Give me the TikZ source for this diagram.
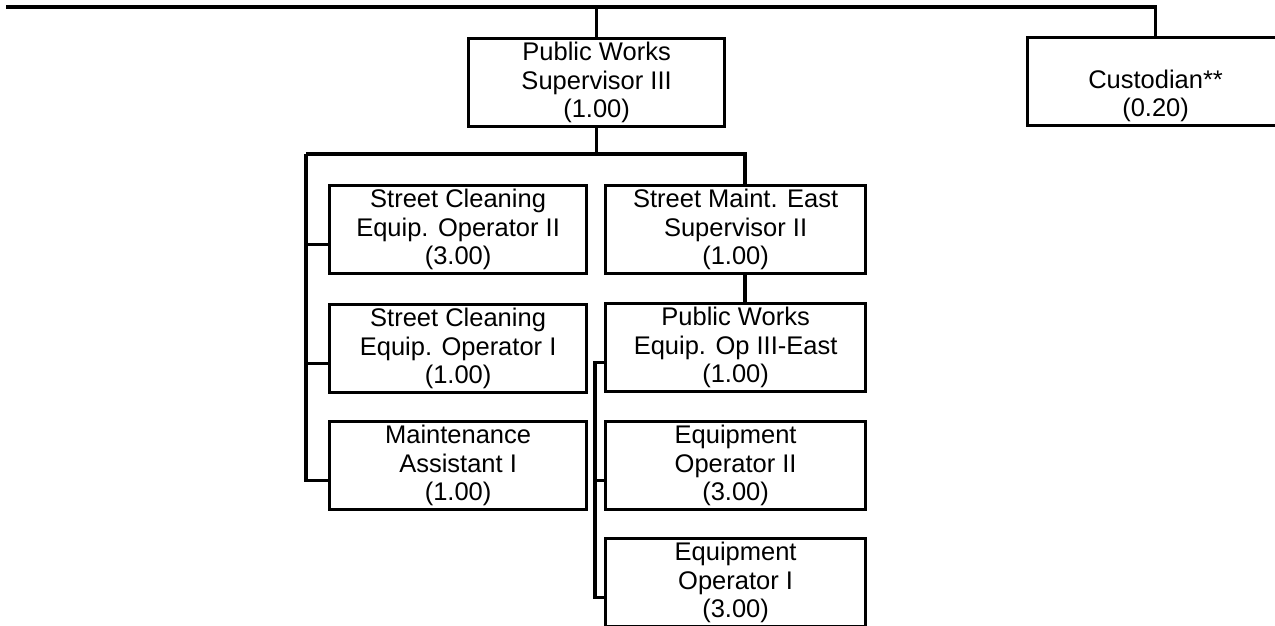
\documentclass[tikz,border=0pt]{standalone}
\usepackage{fontspec}
\setmainfont{Liberation Sans}
\begin{document}
\begin{tikzpicture}[x=1pt,y=-1pt,
  conn/.style={line width=3.1pt,line join=miter},
  post/.style={draw,line width=3.2pt,anchor=north west,inner sep=0pt,
    minimum height=88pt,align=center,
    font=\fontsize{25.5pt}{28.5pt}\selectfont},
  colA/.style={post,minimum width=257pt},
  colB/.style={post,minimum width=260pt},
  colT/.style={post,minimum width=256pt}]
\clip (0,0) rectangle (1275,626);
\fill[white] (0,0) rectangle (1275,626);

% positions
\node[colT] (pws)  at (467,37)   {Public Works\\Supervisor III\\(1.00)};
\node[colT] (cust) at (1026,36)  {\vphantom{Pb}\\Custodian**\\(0.20)};
\node[colA] (sce2) at (328,184)  {Street Cleaning\\Equip. Operator II\\(3.00)};
\node[colA] (sce1) at (328,303)  {Street Cleaning\\Equip. Operator I\\(1.00)};
\node[colA] (ma)   at (328,420)  {Maintenance\\Assistant I\\(1.00)};
\node[colB] (sme)  at (604,184)  {Street Maint. East\\Supervisor II\\(1.00)};
\node[colB] (pweo) at (604,302)  {Public Works\\Equip. Op III-East\\(1.00)};
\node[colB] (eo2)  at (604,420)  {Equipment\\Operator II\\(3.00)};
\node[colB] (eo1)  at (604,537)  {Equipment\\Operator I\\(3.00)};

% junction points
\coordinate (topL) at (6,7);
\coordinate (topR) at (cust.north |- topL);
\coordinate (busL) at (306,154);
\coordinate (busR) at (745,154);
\coordinate (rx)   at (595,154);
\foreach \n in {sce2,sce1,ma,pweo,eo2,eo1}
  \coordinate (\n-in) at ([yshift=-14.5pt]\n.west);

% top level
\draw[conn] (topL) -- (topR) -- (cust.north);
\draw[conn] (pws.north |- topL) -- (pws.north);

% supervisor to its bus
\draw[conn] (pws.south) -- (pws.south |- busL);
\draw[conn] (busL) -- (busR) -- (busR |- sme.north);

% left column
\draw[conn] (busL) |- (ma-in);
\draw[conn] (busL |- sce2-in) -- (sce2-in);
\draw[conn] (busL |- sce1-in) -- (sce1-in);

% right column
\draw[conn] (busR |- sme.south) -- (busR |- pweo.north);
\draw[conn] (pweo-in) -- (rx |- pweo-in) -- (rx |- eo1-in) -- (eo1-in);
\draw[conn] (rx |- eo2-in) -- (eo2-in);
\end{tikzpicture}
\end{document}
